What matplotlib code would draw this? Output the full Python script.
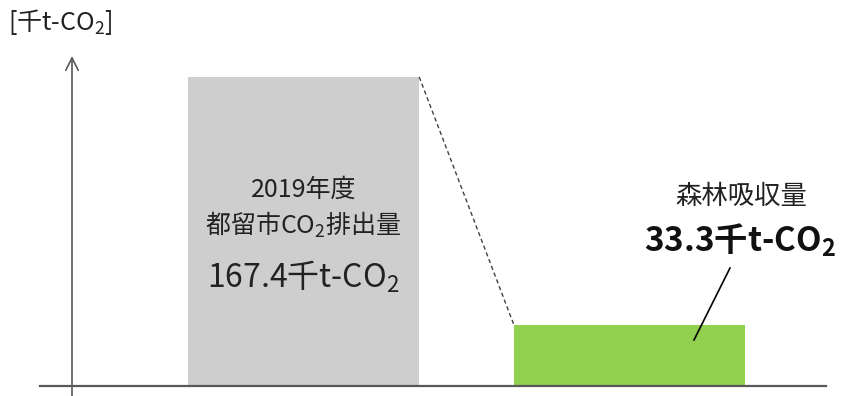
import matplotlib.pyplot as plt

plt.rcParams['font.family'] = ['Noto Sans CJK JP', 'DejaVu Sans']
plt.rcParams['mathtext.fontset'] = 'custom'
plt.rcParams['mathtext.rm'] = 'Noto Sans CJK JP'
plt.rcParams['mathtext.it'] = 'Noto Sans CJK JP'
plt.rcParams['mathtext.bf'] = 'Noto Sans CJK JP:bold'

# data
labels = ['都留市CO$_2$排出量', '森林吸収量']
values = [167.4, 33.3]
colors = ['#cfcecf', '#92d050']
unit = '千t-CO$_2$'

W, H = 842, 396
fig = plt.figure(figsize=(W / 100, H / 100), dpi=100)

# axes placed in pixel units of the reference
px_l, px_r, px_b, px_t = 40, 826, 386, 46
ax = fig.add_axes([px_l / W, 1 - px_b / H, (px_r - px_l) / W, (px_b - px_t) / H])

scale_x = 326.0      # px per category
scale_y = 309.0 / values[0]   # px per unit
ax.set_xlim((px_l - 303.5) / scale_x, (px_r - 303.5) / scale_x)
ax.set_ylim(0, (px_b - px_t) / scale_y)


def xd(px):
    return (px - 303.5) / scale_x


def yd(py):
    return (px_b - py) / scale_y


x = [0, 1]
ax.bar(x, values, width=0.71, color=colors, zorder=2)

for s in ax.spines.values():
    s.set_visible(False)
ax.set_xticks([])
ax.set_yticks([])

# baseline
ax.axhline(0, color='#595959', lw=1.6, zorder=3, clip_on=False)

# y axis with open arrow
ax.annotate('', xy=(xd(72), yd(56)), xytext=(xd(72), yd(397)),
            xycoords='data', textcoords='data', annotation_clip=False,
            arrowprops=dict(arrowstyle='->,head_length=0.9,head_width=0.45',
                            color='#595959', lw=1.2, shrinkA=0, shrinkB=0))

# dashed connector
ax.plot([x[0] + 0.355, x[1] - 0.355], [values[0], values[1]], ls=(0, (3, 2.2)),
        color='#404040', lw=1.0, zorder=3)

# unit label
fig.text(8 / W, 1 - 22 / H, '[' + unit + ']', fontsize=18, va='center', ha='left',
         color='#222222')

# gray bar labels
ax.text(x[0], yd(190), '2019年度', fontsize=18, ha='center', va='center', color='#222222')
ax.text(x[0], yd(225), labels[0], fontsize=18, ha='center', va='center', color='#222222')
ax.text(x[0], yd(277), f'{values[0]:.1f}' + unit, fontsize=23, ha='center', va='center',
        color='#222222')

# green bar labels
ax.text(xd(741), yd(197), labels[1], fontsize=19, ha='center', va='center', color='#222222')
ax.text(xd(740), yd(240), f'{values[1]:.1f}' + '千t-CO$\\mathbf{_2}$', fontsize=24,
        ha='center', va='center', fontweight='bold', color='#111111')

# leader line
ax.plot([xd(730), xd(694)], [yd(268), yd(340)], color='black', lw=1.2, zorder=4)

fig.savefig('out.png', dpi=100)
